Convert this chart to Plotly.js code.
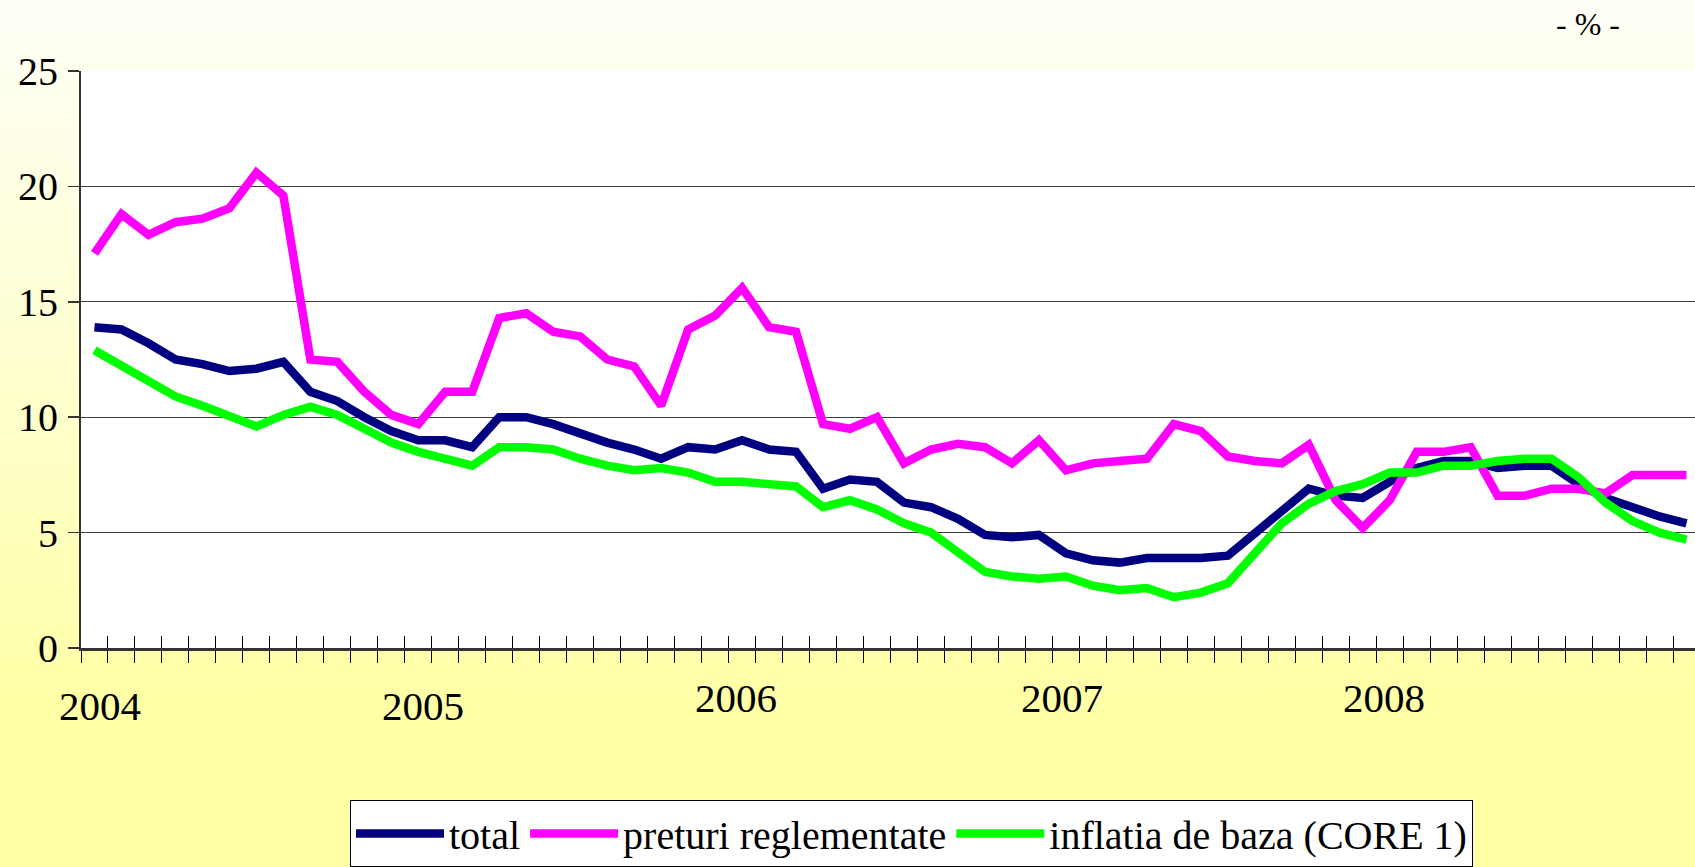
<!DOCTYPE html>
<html>
<head>
<meta charset="utf-8">
<script src="https://cdn.plot.ly/plotly-3.0.1.min.js"></script>
<style>
  html, body { margin: 0; padding: 0; overflow: hidden; width: 1695px; height: 867px; }
  body { background: linear-gradient(to bottom, #FFFFF8 0%, #FFFFF0 8%, #FFFFC8 50%, #FFFFA8 80%, #FFFFA5 100%); }
  #chart { width: 1700px; height: 867px; }
</style>
</head>
<body>
<div id="chart"></div>
<script>
// Monthly data, Jan 2004 - Dec 2008 (annual rate, %)
const seriesNames = ['total', 'preturi reglementate', 'inflatia de baza (CORE 1)'];

const total = [
  13.9, 13.8, 13.2, 12.5, 12.3, 12.0, 12.1, 12.4, 11.1, 10.7, 10.0, 9.4,
  9.0, 9.0, 8.7, 10.0, 10.0, 9.7, 9.3, 8.9, 8.6, 8.2, 8.7, 8.6,
  9.0, 8.6, 8.5, 6.9, 7.3, 7.2, 6.3, 6.1, 5.6, 4.9, 4.8, 4.9,
  4.1, 3.8, 3.7, 3.9, 3.9, 3.9, 4.0, 5.0, 6.0, 6.9, 6.6, 6.5,
  7.2, 7.8, 8.1, 8.1, 7.8, 7.9, 7.9, 7.1, 6.5, 6.1, 5.7, 5.4
];

const preturiReglementate = [
  17.1, 18.8, 17.9, 18.45, 18.6, 19.05, 20.6, 19.6, 12.5, 12.4, 11.1, 10.1,
  9.7, 11.1, 11.1, 14.3, 14.5, 13.7, 13.5, 12.5, 12.2, 10.5, 13.8, 14.4,
  15.6, 13.9, 13.7, 9.7, 9.5, 10.0, 8.0, 8.6, 8.85, 8.7, 8.0, 9.0,
  7.7, 8.0, 8.1, 8.2, 9.7, 9.4, 8.3, 8.1, 8.0, 8.8, 6.4, 5.2,
  6.4, 8.5, 8.5, 8.7, 6.6, 6.6, 6.9, 6.9, 6.7, 7.5, 7.5, 7.5
];

const core1 = [
  12.9, 12.2, 11.6, 10.9, 10.5, 10.0, 9.6, 10.1, 10.45, 10.1, 9.5, 8.9,
  8.5, 8.2, 7.9, 8.7, 8.7, 8.6, 8.2, 7.9, 7.7, 7.8, 7.6, 7.2,
  7.2, 7.1, 7.0, 6.1, 6.4, 6.0, 5.4, 5.0, 4.2, 3.3, 3.1, 3.0,
  3.1, 2.7, 2.5, 2.6, 2.2, 2.4, 2.8, 4.1, 5.4, 6.25, 6.8, 7.1,
  7.6, 7.6, 7.9, 7.9, 8.1, 8.2, 8.2, 7.4, 6.3, 5.5, 5.0, 4.7
];

const yearLabels = ['2004', '2005', '2006', '2007', '2008'];
const yTickValues = [0, 5, 10, 15, 20, 25];
const unitLabel = '- % -';

// month index positions (0 = Jan 2004)
const monthIndex = total.map((_, i) => i);
const boundaries = [];
for (let k = 0; k <= total.length; k++) boundaries.push(k - 0.5);

// layout-only placement of the year captions (month-index units / pixel rows)
const yearX = [0.21, 12.19, 23.79, 35.87, 47.8];
const yearRowPx = [716, 716, 707.5, 707.5, 707.5];

const FONT = '"Liberation Serif", "Times New Roman", serif';
const W = 1700, H = 867;
const M = { l: 81, r: 0, t: 71, b: 210 };
const plotH = H - M.t - M.b;
const pxToPaperY = (py) => (H - M.b - py) / plotH;
const pxToPaperX = (px) => (px - M.l) / (W - M.l - M.r);

const colors = ['#000080', '#FF00FF', '#00FF00'];
const values = [total, preturiReglementate, core1];

const traces = values.map((v, s) => ({
  type: 'scatter',
  mode: 'lines',
  name: seriesNames[s],
  x: monthIndex,
  y: v,
  line: { color: colors[s], width: 8.5 },
  hoverinfo: 'skip'
}));
// empty companion trace so the overlay axis (inner half of the crossing ticks) exists
traces.push({ type: 'scatter', mode: 'lines', x: [], y: [], xaxis: 'x2', yaxis: 'y', showlegend: false, hoverinfo: 'skip' });

const annotations = yearLabels.map((t, i) => ({
  text: t, x: yearX[i], xref: 'x', y: pxToPaperY(yearRowPx[i]), yref: 'paper',
  xanchor: 'center', yanchor: 'middle', showarrow: false,
  font: { family: FONT, size: 41, color: '#000' }
}));
annotations.push({
  text: unitLabel, x: pxToPaperX(1588), xref: 'paper', y: pxToPaperY(23), yref: 'paper',
  xanchor: 'center', yanchor: 'middle', showarrow: false,
  font: { family: FONT, size: 32, color: '#000' }
});

const xRange = [-0.5, total.length - 0.5];

const layout = {
  width: W, height: H,
  margin: M,
  paper_bgcolor: 'rgba(0,0,0,0)',
  plot_bgcolor: '#FFFFFF',
  showlegend: true,
  font: { family: FONT, size: 40, color: '#000' },
  xaxis: {
    type: 'linear', range: xRange, fixedrange: true,
    tickmode: 'array', tickvals: boundaries, ticktext: boundaries.map(() => ''),
    ticks: 'outside', ticklen: 12, tickwidth: 1, tickcolor: '#000',
    showticklabels: false, showgrid: false, zeroline: false,
    showline: true, linecolor: '#333', linewidth: 3
  },
  xaxis2: {
    type: 'linear', range: xRange, overlaying: 'x', anchor: 'y', fixedrange: true,
    tickmode: 'array', tickvals: boundaries,
    ticks: 'inside', ticklen: 12, tickwidth: 1, tickcolor: '#000',
    showticklabels: false, showgrid: false, zeroline: false, showline: false
  },
  yaxis: {
    range: [0, 25], tickmode: 'array', tickvals: yTickValues, fixedrange: true,
    ticks: 'outside', ticklen: 11, tickwidth: 1.5, tickcolor: '#333',
    ticklabelstandoff: 2,
    tickfont: { family: FONT, size: 40, color: '#000' },
    showgrid: true, gridcolor: '#3c3c3c', gridwidth: 1.2,
    zeroline: false, showline: true, linecolor: '#333', linewidth: 2
  },
  legend: {
    orientation: 'h',
    x: pxToPaperX(350), xanchor: 'left',
    y: pxToPaperY(812), yanchor: 'top',
    bgcolor: '#FFFFFF', bordercolor: '#000', borderwidth: 1,
    itemwidth: 88,
    font: { family: FONT, size: 40, color: '#000' },
    traceorder: 'normal'
  },
  annotations: annotations
};

Plotly.newPlot('chart', traces, layout, { staticPlot: true, displayModeBar: false });
</script>
</body>
</html>
